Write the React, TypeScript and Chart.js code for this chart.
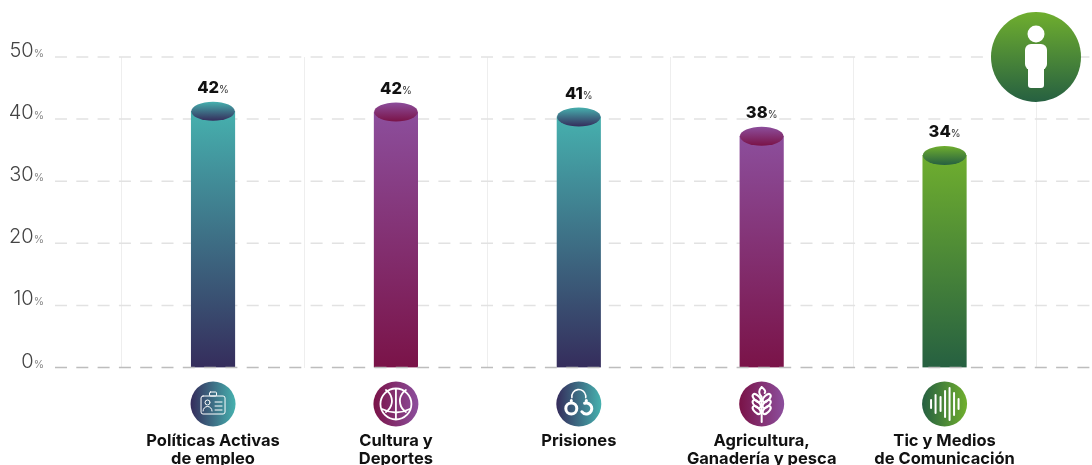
import React, { useEffect, useRef } from "react";
import { Chart, registerables } from "chart.js";

Chart.register(...registerables);

const categories: string[][] = [
  ["Políticas Activas", "de empleo"],
  ["Cultura y", "Deportes"],
  ["Prisiones"],
  ["Agricultura,", "Ganadería y pesca"],
  ["Tic y Medios", "de Comunicación"],
];
const values = [41.25, 41.15, 40.35, 37.25, 34.15];
const valueLabels = ["42", "42", "41", "38", "34"];
const topColors = ["#46b0ae", "#8c4e9c", "#46b0ae", "#8c4e9c", "#6fae2e"];
const bottomColors = ["#352d5c", "#7a1348", "#352d5c", "#7a1348", "#266041"];
const iconKinds = ["badge", "ball", "cuffs", "wheat", "wave"];
const yTicks = { min: 0, max: 50, stepSize: 10 };

const FONT = "Inter, 'Noto Sans', sans-serif";

function vGrad(ctx: CanvasRenderingContext2D, y0: number, y1: number, a: string, b: string) {
  const g = ctx.createLinearGradient(0, y0, 0, y1);
  g.addColorStop(0, a);
  g.addColorStop(1, b);
  return g;
}

function drawIcon(ctx: CanvasRenderingContext2D, kind: string, x: number, y: number) {
  ctx.save();
  ctx.translate(x, y);
  ctx.strokeStyle = "#fff";
  ctx.fillStyle = "#fff";
  ctx.lineWidth = 1;
  ctx.lineCap = "round";
  ctx.lineJoin = "round";
  const line = (a: number, b: number, c: number, d: number) => {
    ctx.beginPath();
    ctx.moveTo(a, b);
    ctx.lineTo(c, d);
    ctx.stroke();
  };
  if (kind === "badge") {
    ctx.beginPath();
    ctx.roundRect(-12, -8, 24, 18, 2);
    ctx.stroke();
    ctx.beginPath();
    ctx.roundRect(-3.5, -12, 7, 4, 1);
    ctx.stroke();
    ctx.beginPath();
    ctx.arc(-5.5, -1.5, 2.5, 0, Math.PI * 2);
    ctx.stroke();
    ctx.beginPath();
    ctx.arc(-5.5, 7, 4.5, Math.PI, 0);
    ctx.stroke();
    line(2, -2, 9, -2);
    line(2, 2, 9, 2);
    line(2, 6, 9, 6);
  } else if (kind === "ball") {
    ctx.lineWidth = 1.8;
    ctx.beginPath();
    ctx.arc(0, 0, 15.5, 0, Math.PI * 2);
    ctx.stroke();
    line(0, -15, 0, 15);
    ctx.beginPath();
    ctx.arc(-17, -3, 13, -1.0, 1.0);
    ctx.stroke();
    ctx.beginPath();
    ctx.arc(17, -3, 13, Math.PI - 1.0, Math.PI + 1.0);
    ctx.stroke();
    ctx.beginPath();
    ctx.moveTo(-14, 5);
    ctx.quadraticCurveTo(0, 12, 14, 5);
    ctx.stroke();
  } else if (kind === "cuffs") {
    ctx.lineWidth = 3;
    ctx.beginPath();
    ctx.arc(-7.5, 4.5, 5.5, 0, Math.PI * 2);
    ctx.stroke();
    ctx.beginPath();
    ctx.arc(7.5, 4.5, 5.5, -Math.PI * 0.6, Math.PI * 0.8);
    ctx.stroke();
    line(-7.5, -3, -7.5, -3.5);
    line(7.5, -3, 7.5, -3.5);
    ctx.lineWidth = 1.6;
    ctx.beginPath();
    ctx.arc(0, -7.5, 7, Math.PI * 0.95, Math.PI * 2.05);
    ctx.stroke();
  } else if (kind === "wheat") {
    ctx.lineWidth = 2;
    line(0, -5, 0, 18);
    ctx.beginPath();
    ctx.moveTo(0, -17);
    ctx.quadraticCurveTo(-5, -12, 0, -7);
    ctx.moveTo(0, -17);
    ctx.quadraticCurveTo(5, -13, 3, -11);
    ctx.stroke();
    [-6, 0, 6].forEach((dy) => {
      ctx.beginPath();
      ctx.ellipse(-5, dy, 5, 2.6, 0.8, 0, Math.PI * 2);
      ctx.stroke();
      ctx.beginPath();
      ctx.ellipse(5, dy, 5, 2.6, -0.8, 0, Math.PI * 2);
      ctx.stroke();
    });
  } else {
    ctx.lineWidth = 2;
    const list: [number, number][] = [[-13.5, 4], [-9, 9], [-4, 7], [0.5, 13], [5, 16], [9.5, 11], [14, 5]];
    list.forEach(([dx, h]) => line(dx, -h, dx, h));
  }
  ctx.restore();
}

const chartDecor = {
  id: "chartDecor",
  beforeDatasetsDraw(chart: any) {
    const { ctx, scales } = chart;
    const yS = scales.y;
    ctx.save();
    ctx.setLineDash([12, 9.3]);
    ctx.lineWidth = 1.5;
    ctx.strokeStyle = "#e2e2e2";
    yS.ticks.forEach((t: any) => {
      if (t.value === 0) return;
      const y = yS.getPixelForValue(t.value);
      ctx.beginPath();
      ctx.moveTo(55, y);
      ctx.lineTo(1092, y);
      ctx.stroke();
    });
    ctx.restore();
  },
  afterDatasetsDraw(chart: any) {
    const { ctx, scales } = chart;
    const yS = scales.y;
    const xS = scales.x;
    const meta = chart.getDatasetMeta(0);
    const base = yS.getPixelForValue(0);

    ctx.save();
    ctx.setLineDash([12, 9.3]);
    ctx.lineWidth = 1.5;
    ctx.strokeStyle = "#bdbdbd";
    ctx.beginPath();
    ctx.moveTo(55, base);
    ctx.lineTo(1092, base);
    ctx.stroke();
    ctx.restore();

    meta.data.forEach((bar: any, i: number) => {
      const rx = bar.width / 2;
      const ry = 9.5;
      ctx.save();
      ctx.fillStyle = vGrad(ctx, bar.y - ry, bar.y + ry, topColors[i], bottomColors[i]);
      ctx.beginPath();
      ctx.ellipse(bar.x, bar.y, rx, ry, 0, 0, Math.PI * 2);
      ctx.fill();
      ctx.restore();

      // value label with small percent sign
      ctx.save();
      ctx.textBaseline = "alphabetic";
      ctx.font = `800 16.5px ${FONT}`;
      const big = ctx.measureText(valueLabels[i]).width;
      ctx.font = `400 10px ${FONT}`;
      const small = ctx.measureText("%").width;
      const sx = bar.x - (big + small) / 2;
      const ly = bar.y - 18;
      ctx.font = `800 16.5px ${FONT}`;
      ctx.fillStyle = "#111";
      ctx.fillText(valueLabels[i], sx, ly);
      ctx.font = `400 10px ${FONT}`;
      ctx.fillStyle = "#333";
      ctx.fillText("%", sx + big, ly);
      ctx.restore();
    });

    // y axis labels
    yS.ticks.forEach((t: any) => {
      const y = yS.getPixelForValue(t.value);
      ctx.save();
      ctx.textBaseline = "alphabetic";
      ctx.font = `400 10.5px ${FONT}`;
      ctx.fillStyle = "#8a8a8a";
      const sw = ctx.measureText("%").width;
      ctx.fillText("%", 44 - sw, y);
      ctx.font = `300 20px ${FONT}`;
      ctx.fillStyle = "#444";
      const s = String(t.value);
      const w = ctx.measureText(s).width;
      ctx.fillText(s, 44 - sw - w, y);
      ctx.restore();
    });

    // category icons
    iconKinds.forEach((kind, i) => {
      const cx = xS.getPixelForValue(i);
      const cy = base + 36.5;
      ctx.save();
      const g = ctx.createLinearGradient(cx - 22, 0, cx + 22, 0);
      g.addColorStop(0, bottomColors[i]);
      g.addColorStop(1, topColors[i]);
      ctx.fillStyle = g;
      ctx.beginPath();
      ctx.arc(cx, cy, 22.5, 0, Math.PI * 2);
      ctx.fill();
      ctx.restore();
      drawIcon(ctx, kind, cx, cy);
    });

    // person badge
    const px = 1036;
    const py = 57;
    ctx.save();
    ctx.fillStyle = vGrad(ctx, py - 45, py + 45, "#6fae2e", "#266041");
    ctx.beginPath();
    ctx.arc(px, py, 45, 0, Math.PI * 2);
    ctx.fill();
    ctx.fillStyle = "#fff";
    ctx.beginPath();
    ctx.arc(px, py - 23, 8.5, 0, Math.PI * 2);
    ctx.fill();
    ctx.beginPath();
    ctx.roundRect(px - 11, py - 13, 22, 26, 6);
    ctx.fill();
    ctx.beginPath();
    ctx.roundRect(px - 8, py + 5, 16, 26, 3);
    ctx.fill();
    ctx.restore();
  },
};

export default function App() {
  const ref = useRef<HTMLCanvasElement>(null);
  useEffect(() => {
    document.body.style.margin = "0";
    document.body.style.background = "#fff";
    document.documentElement.style.overflow = "hidden";
    const chart = new Chart(ref.current!, {
      type: "bar",
      data: {
        labels: categories,
        datasets: [
          {
            data: values,
            barThickness: 43.5,
            borderWidth: 0,
            backgroundColor: (c: any) => {
              const { chart: ch, dataIndex: i } = c;
              if (!ch.chartArea || i === undefined) return topColors[0];
              const yS = ch.scales.y;
              return vGrad(ch.ctx, yS.getPixelForValue(values[i]), yS.getPixelForValue(0), topColors[i], bottomColors[i]);
            },
          },
        ],
      },
      options: {
        responsive: false,
        animation: false,
        layout: { padding: { left: 121.6, right: 56, top: 57, bottom: 0 } },
        plugins: { legend: { display: false }, tooltip: { enabled: false } },
        scales: {
          x: {
            afterFit: (s: any) => {
              s.height = 97.5;
            },
            grid: { color: "#eeeeee", lineWidth: 1, drawTicks: false, offset: true },
            border: { display: false },
            ticks: {
              autoSkip: false,
              maxRotation: 0,
              minRotation: 0,
              padding: 65,
              color: "#111",
              font: { family: FONT, weight: 700, size: 16.5, lineHeight: 1.09 },
            },
          },
          y: {
            min: yTicks.min,
            max: yTicks.max,
            afterFit: (s: any) => {
              s.width = 0;
            },
            ticks: { stepSize: yTicks.stepSize, display: false },
            grid: { display: false },
            border: { display: false },
          },
        },
      },
      plugins: [chartDecor],
    } as any);
    return () => chart.destroy();
  }, []);
  return <canvas ref={ref} width={1092} height={465} style={{ display: "block" }} />;
}
